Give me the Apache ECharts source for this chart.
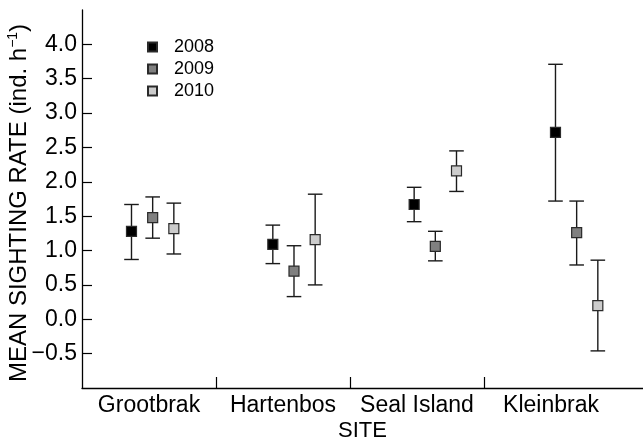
<!DOCTYPE html>
<html><head><meta charset="utf-8">
<script src="https://cdn.jsdelivr.net/npm/echarts@6/dist/echarts.min.js"></script>
<style>html,body{margin:0;padding:0;background:#fff}#c{width:643px;height:444px}</style>
</head><body><div id="c"></div><script>
const sites = ['Grootbrak', 'Hartenbos', 'Seal Island', 'Kleinbrak'];
const years = ['2008', '2009', '2010'];
const mean2008 = [1.28, 1.09, 1.67, 2.72];
const low2008  = [0.87, 0.81, 1.42, 1.72];
const high2008 = [1.67, 1.37, 1.92, 3.71];
const mean2009 = [1.48, 0.70, 1.06, 1.26];
const low2009  = [1.18, 0.33, 0.85, 0.79];
const high2009 = [1.78, 1.07, 1.28, 1.72];
const mean2010 = [1.32, 1.16, 2.16, 0.20];
const low2010  = [0.95, 0.50, 1.86, -0.46];
const high2010 = [1.69, 1.82, 2.45, 0.86];
const yTickValues = [-0.5, 0, 0.5, 1, 1.5, 2, 2.5, 3, 3.5, 4];

const means = [mean2008, mean2009, mean2010];
const lows = [low2008, low2009, low2010];
const highs = [high2008, high2009, high2010];
const fills = ['#000000', '#808080', '#cccccc'];
const FONT = 'Liberation Sans, Arial, Helvetica, sans-serif';

// layout constants (axis units = one site band)
const GRID_LEFT = 82, GRID_RIGHT = 0, GRID_TOP = 10, GRID_BOTTOM = 56;
const BAND_PX = 134;
const XMAX = (643 - GRID_LEFT - GRID_RIGHT) / BAND_PX;
const SPREAD = 1.0547;   // placement of site groups
const DODGE = 0.158;     // offset between years
function xPos(i, j) { return (i + 0.5) * SPREAD + (j - 1) * DODGE; }

const series = [];
years.forEach((yr, j) => {
  const errData = sites.map((s, i) => [xPos(i, j), lows[j][i], highs[j][i]]);
  series.push({
    type: 'custom',
    name: yr + '_err',
    silent: true,
    z: 2,
    renderItem: function (params, api) {
      const x = api.value(0);
      const top = api.coord([x, api.value(2)]);
      const bot = api.coord([x, api.value(1)]);
      const hw = 7.3;
      const st = { stroke: '#1a1a1a', lineWidth: 1.4 };
      return {
        type: 'group',
        children: [
          { type: 'line', shape: { x1: top[0], y1: top[1], x2: bot[0], y2: bot[1] }, style: st },
          { type: 'line', shape: { x1: top[0] - hw, y1: top[1], x2: top[0] + hw, y2: top[1] }, style: st },
          { type: 'line', shape: { x1: bot[0] - hw, y1: bot[1], x2: bot[0] + hw, y2: bot[1] }, style: st }
        ]
      };
    },
    data: errData
  });
  series.push({
    type: 'scatter',
    name: yr,
    symbol: 'rect',
    symbolSize: 10,
    z: 3,
    itemStyle: { color: fills[j], borderColor: '#2a2a2a', borderWidth: 1.2, opacity: 1 },
    emphasis: { disabled: true },
    data: sites.map((s, i) => [xPos(i, j), means[j][i]])
  });
});

const chart = echarts.init(document.getElementById('c'), null, { renderer: 'canvas' });
chart.setOption({
  animation: false,
  backgroundColor: '#ffffff',
  grid: { left: GRID_LEFT, right: GRID_RIGHT, top: GRID_TOP, bottom: GRID_BOTTOM, containLabel: false, outerBoundsMode: 'none' },
  legend: {
    data: years,
    orient: 'vertical',
    left: 147,
    top: 38,
    padding: 0,
    itemWidth: 9,
    itemHeight: 9,
    itemGap: 4,
    icon: 'rect',
    textStyle: { fontFamily: FONT, fontSize: 18, color: '#000', lineHeight: 18, padding: [0, 0, 0, 12] },
    selectedMode: false
  },
  xAxis: {
    type: 'value',
    min: 0,
    max: XMAX,
    name: 'SITE',
    nameLocation: 'middle',
    nameGap: 32,
    nameMoveOverlap: false,
    nameTextStyle: { fontFamily: FONT, fontSize: 22, color: '#000' },
    splitLine: { show: false },
    axisLine: { show: true, onZero: false, lineStyle: { color: '#000', width: 1.3 } },
    axisTick: { show: true, inside: true, length: 11, customValues: [1, 2, 3], lineStyle: { color: '#000', width: 1.2 } },
    axisLabel: {
      customValues: [0.5, 1.5, 2.5, 3.5],
      formatter: v => sites[Math.floor(v)],
      fontFamily: FONT, fontSize: 23, color: '#000', margin: 6
    }
  },
  yAxis: {
    type: 'value',
    min: -1,
    max: 4.5,
    name: '{a|MEAN SIGHTING RATE (ind. h}{s|−1}{a|)}',
    nameLocation: 'middle',
    nameGap: 50,
    nameMoveOverlap: false,
    nameTextStyle: {
      padding: [0, 8, 0, 0],
      rich: {
        a: { fontFamily: FONT, fontSize: 24, color: '#000', lineHeight: 26 },
        s: { fontFamily: FONT, fontSize: 14, color: '#000', verticalAlign: 'top', lineHeight: 26 }
      }
    },
    splitLine: { show: false },
    axisLine: { show: true, lineStyle: { color: '#000', width: 1.3 } },
    axisTick: { show: true, inside: true, length: 10, customValues: yTickValues, lineStyle: { color: '#000', width: 1.2 } },
    axisLabel: {
      customValues: yTickValues,
      formatter: v => (v < 0 ? '−' : '') + Math.abs(v).toFixed(1),
      fontFamily: FONT, fontSize: 23, color: '#000', margin: 5
    }
  },
  series: series
});
</script></body></html>
